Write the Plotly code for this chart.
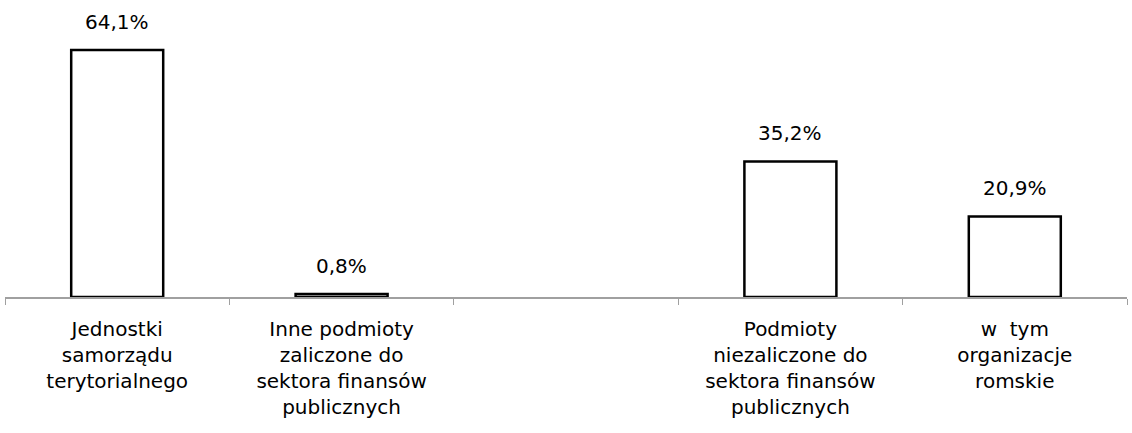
import plotly.graph_objects as go

categories = [
    "Jednostki<br>samorządu<br>terytorialnego",
    "Inne podmioty<br>zaliczone do<br>sektora finansów<br>publicznych",
    " ",
    "Podmioty<br>niezaliczone do<br>sektora finansów<br>publicznych",
    "w  tym<br>organizacje<br>romskie",
]
values = [64.1, 0.8, None, 35.2, 20.9]
value_labels = ["64,1%", "0,8%", "", "35,2%", "20,9%"]

FONT = "DejaVu Sans, Liberation Sans, Arial, sans-serif"

fig = go.Figure()
fig.add_trace(go.Bar(
    x=categories,
    y=values,
    marker=dict(color="white", line=dict(color="black", width=2.5)),
    hoverinfo="skip",
))

for c, v, t in zip(categories, values, value_labels):
    if v is None:
        continue
    fig.add_annotation(
        x=c, y=v, text=t, showarrow=False, yanchor="bottom", yshift=14,
        font=dict(family=FONT, size=20, color="black"),
    )

fig.update_layout(
    width=1132, height=433,
    margin=dict(l=5, r=5, t=0, b=136),
    plot_bgcolor="white", paper_bgcolor="white",
    bargap=0.59,
    showlegend=False,
    font=dict(family=FONT, size=20, color="black"),
)
fig.update_xaxes(
    type="category", automargin=False,
    showline=True, linecolor="#a0a0a0", linewidth=2,
    ticks="outside", tickson="boundaries", ticklen=6, tickcolor="#a0a0a0", tickwidth=1,
    ticklabelstandoff=13,
    showgrid=False, zeroline=False,
    tickfont=dict(family=FONT, size=20, color="black"),
)
fig.update_yaxes(
    range=[0, 77.1], visible=False, showgrid=False, zeroline=False, automargin=False,
)

fig.write_html(
    "out.html",
    config={"displayModeBar": False, "staticPlot": True},
    post_script="document.body.style.margin='0';document.body.style.overflow='hidden';",
)
